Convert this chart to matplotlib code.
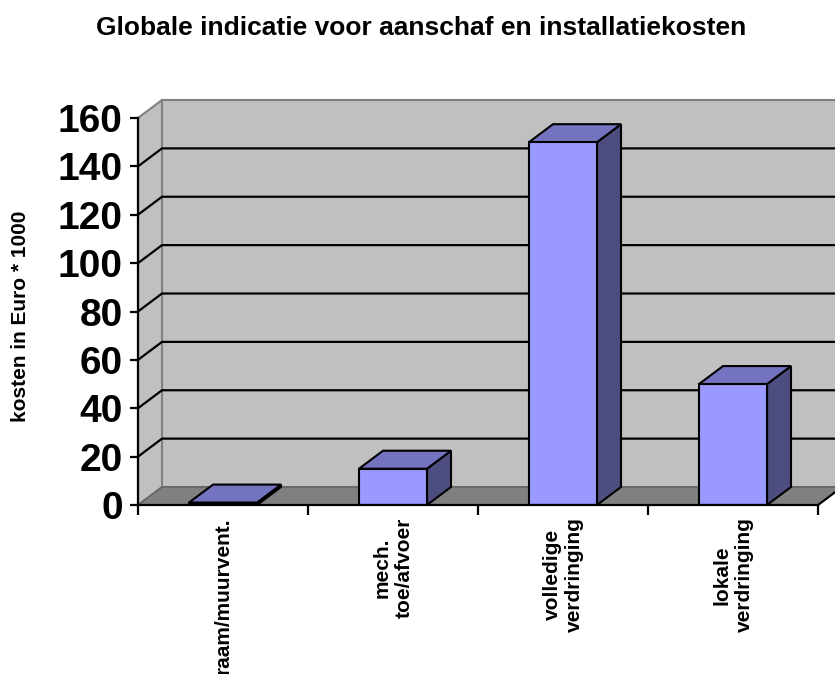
# Globale indicatie van aanschaf- en installatiekosten per ventilatiesysteem
import matplotlib.pyplot as plt
from matplotlib.patches import Polygon, Rectangle

categorieen = ['raam/muurvent.', 'mech.\ntoe/afvoer', 'volledige\nverdringing', 'lokale\nverdringing']
kosten = [1, 15, 150, 50]
y_ticks = [0, 20, 40, 60, 80, 100, 120, 140, 160]

plt.rcParams['font.family'] = ['Liberation Sans', 'DejaVu Sans']
plt.rcParams['font.weight'] = 'bold'

# schaal: 170 px per categorie, 387 px voor 0..160
px_x = 170.0
px_y = 387.0 / 160
dx = 24 / px_x          # diepte-verschuiving naar rechts
dy = 18 / px_y          # diepte-verschuiving naar boven
ymax = y_ticks[-1]
n = len(categorieen)

fig = plt.figure(figsize=(8.35, 6.74), dpi=100)
ax = fig.add_axes([138 / 835, 169 / 674, 697 / 835, 405 / 674])
ax.set_xlim(0, 697 / px_x)
ax.set_ylim(0, 405 / px_y)

wand = '#c0c0c0'
rand = '#808080'

# achterwand, zijwand en vloer
ax.add_patch(Rectangle((dx, dy), n + 0.5, ymax, facecolor=wand, edgecolor=rand, lw=1.5, clip_on=False, zorder=0.5))
ax.add_patch(Polygon([(0, 0), (dx, dy), (dx, ymax + dy), (0, ymax)], closed=True,
                     facecolor=wand, edgecolor=rand, lw=1.5, clip_on=False, zorder=0.6))
ax.add_patch(Polygon([(0, 0), (n, 0), (n + dx, dy), (dx, dy)], closed=True,
                     facecolor='#808080', edgecolor='#666666', lw=1.2, clip_on=False, zorder=0.7))
ax.plot([n, n + dx], [0, dy], color='black', lw=1.5, clip_on=False, zorder=0.8)

# rasterlijnen op zij- en achterwand
for v in y_ticks[1:-1]:
    ax.plot([0, dx, n + 0.5], [v, v + dy, v + dy], color='black', lw=1.6, clip_on=False, zorder=0.9)

# 3D-kolommen
breedte = 0.4
for i, v in enumerate(kosten):
    x0 = i + 0.5 - breedte / 2
    x1 = x0 + breedte
    ax.add_patch(Polygon([(x1, 0), (x1 + dx, dy), (x1 + dx, v + dy), (x1, v)], closed=True,
                         facecolor='#4d4d80', edgecolor='black', lw=1.5, zorder=2))
    ax.add_patch(Polygon([(x0, v), (x1, v), (x1 + dx, v + dy), (x0 + dx, v + dy)], closed=True,
                         facecolor='#7373bf', edgecolor='black', lw=1.5, zorder=2))
    ax.add_patch(Rectangle((x0, 0), breedte, v, facecolor='#9999ff', edgecolor='black', lw=1.5, zorder=2.1))

# assen
for s in ['top', 'right']:
    ax.spines[s].set_visible(False)
ax.spines['left'].set_bounds(0, ymax)
ax.spines['bottom'].set_bounds(0, n)
for s in ['left', 'bottom']:
    ax.spines[s].set_linewidth(1.6)
    ax.spines[s].set_zorder(3)

ax.set_yticks(y_ticks)
ax.set_yticklabels([str(t) for t in y_ticks], fontsize=28, fontweight='bold')
ax.tick_params(axis='y', length=6, width=1.6, pad=5)

ax.set_xticks(range(n + 1))
ax.set_xticklabels([])
ax.set_xticks([i + 0.5 for i in range(n)], minor=True)
ax.set_xticklabels(categorieen, minor=True, rotation=90, fontsize=15, fontweight='bold',
                   va='top', ha='center')
ax.tick_params(axis='x', which='major', length=7, width=1.6)
ax.tick_params(axis='x', which='minor', length=0, pad=9)

fig.text(421 / 835, 1 - 28 / 674, 'Globale indicatie voor aanschaf en installatiekosten',
         ha='center', va='center', fontsize=19, fontweight='bold')
fig.text(21 / 835, 1 - 316 / 674, 'kosten in Euro * 1000', rotation=90,
         ha='center', va='center', fontsize=15, fontweight='bold')

fig.savefig('out.png', dpi=100)
